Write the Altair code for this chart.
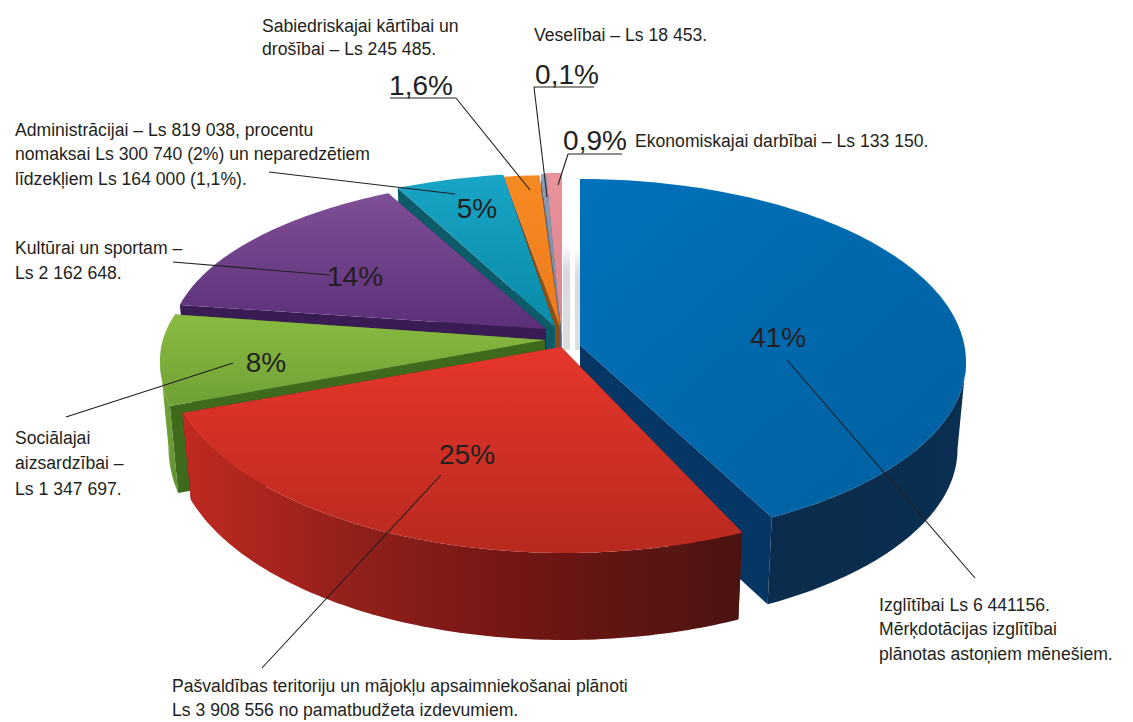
import math
import altair as alt

# ---- chart values ----
slice_names = ["Izglitiba", "Pasvaldiba", "Sociala", "Kultura", "Administracija", "Kartiba", "Veseliba", "Ekonomika"]
percent_labels = ["41%", "25%", "8%", "14%", "5%", "1,6%", "0,1%", "0,9%"]
start_deg = [0, 153.7, 257, 283, 335.4, 351.6, 357, 357.4]
end_deg = [150.2, 253, 286, 334.3, 351.8, 356.9, 357.8, 360]

# ---- drawing layout (image pixels) ----
apex_xy = [(580, 345), (561, 347), (545, 340), (546, 329), (555, 327), (560, 327), (561, 330), (562, 335)]
rim_centre = [(580, 362), (565, 355), (545, 360), (555, 342), (558, 338), (560, 340), (561, 339), (562, 338)]
radius_x = [386, 400, 385, 385, 385, 385, 385, 385]
radius_back = [183, 165, 165, 165, 165, 165, 165, 165]
radius_front = [179, 198, 205, 198, 198, 198, 198, 198]
DEPTH = 87
SHRINK = 0.978
WALL_FROM, WALL_TO = 90, 270
draw_order = [7, 6, 5, 4, 3, 2, 0, 1]


def grad(stops, x1=0, y1=0, x2=0, y2=1):
    return alt.LinearGradient(
        gradient="linear", x1=x1, y1=y1, x2=x2, y2=y2,
        stops=[alt.GradientStop(offset=o, color=c) for o, c in stops],
    )


top_fill = [
    grad([(0, "#0072bb"), (1, "#005f9f")], 0, 0, 1, 1),
    grad([(0, "#e6362c"), (1, "#b8291f")]),
    grad([(0, "#8abb41"), (1, "#6fa036")]),
    grad([(0, "#7f4f97"), (1, "#5b3079")]),
    grad([(0, "#18a5c6"), (1, "#0a8aa8")]),
    grad([(0, "#f68a22"), (1, "#ee7a1c")]),
    grad([(0, "#8f9ab4"), (1, "#7b86a0")]),
    grad([(0, "#ea929c"), (1, "#d8848e")]),
]
wall_fill = [
    grad([(0, "#0b2c4c"), (1, "#0a2f52")], 0, 0, 1, 0),
    grad([(0, "#c02a22"), (0.3, "#92201a"), (0.62, "#701614"), (1, "#4a1412")], 0, 0, 1, 0),
    grad([(0, "#79aa3a"), (1, "#5f9030")], 0, 0, 1, 0),
    grad([(0, "#4a2468"), (1, "#3a1c55")], 0, 0, 1, 0),
    grad([(0, "#0d5a68"), (1, "#0d5a68")], 0, 0, 1, 0),
    grad([(0, "#8a4a10"), (1, "#8a4a10")], 0, 0, 1, 0),
    grad([(0, "#606a80"), (1, "#606a80")], 0, 0, 1, 0),
    grad([(0, "#a86a72"), (1, "#a86a72")], 0, 0, 1, 0),
]
face_fill = ["#053664", "#5a1814", "#3f6a1e", "#3a1c55", "#0d5a68", "#8a4f18", "#5a6478", "#a86a72"]
shadow_fill = grad([(0, "#ffffff"), (0.25, "#d8dadd"), (1, "#dcdee0")])
shadow_strips = [[(563, 243), (570, 243), (570, 350), (563, 350)], [(575, 250), (580, 250), (580, 350), (575, 350)]]

# text: (x, baseline y, string)
note_lines = [
    (262, 32, "Sabiedriskajai kārtībai un"),
    (262, 55, "drošībai – Ls 245 485."),
    (534, 41, "Veselībai – Ls 18 453."),
    (635, 147, "Ekonomiskajai darbībai – Ls 133 150."),
    (15, 136, "Administrācijai – Ls 819 038, procentu"),
    (15, 160, "nomaksai Ls 300 740 (2%) un neparedzētiem"),
    (15, 185, "līdzekļiem Ls 164 000 (1,1%)."),
    (15, 254, "Kultūrai un sportam –"),
    (15, 279, "Ls 2 162 648."),
    (15, 444, "Sociālajai"),
    (15, 469, "aizsardzībai –"),
    (15, 495, "Ls 1 347 697."),
    (879, 611, "Izglītībai Ls 6 441156."),
    (879, 635, "Mērķdotācijas izglītībai"),
    (879, 660, "plānotas astoņiem mēnešiem."),
    (172, 692, "Pašvaldības teritoriju un mājokļu apsaimniekošanai plānoti"),
    (172, 716, "Ls 3 908 556 no pamatbudžeta izdevumiem."),
]
percent_pos = [(778, 347), (467, 464), (266, 372), (355, 286), (477, 218), (421, 95), (567, 84), (595, 150)]
leaders = [
    (787, 360, 975, 578), (441, 475, 262, 668), (233, 363, 66, 417), (173, 262, 330, 275),
    (269, 172, 455, 194), (390, 98, 456, 98), (456, 98, 530, 190), (534, 87, 594, 87),
    (534, 87, 547, 197), (568, 154, 622, 154), (568, 154, 558, 185),
]


def rim(i, deg):
    t = math.radians(deg)
    c = math.cos(t)
    ex, ey = rim_centre[i]
    ry = radius_back[i] if c > 0 else radius_front[i]
    return (ex + radius_x[i] * math.sin(t), ey - ry * c)


def lower(i, p):
    ex = rim_centre[i][0]
    return (ex + (p[0] - ex) * SHRINK, p[1] + DEPTH)


def arc_pts(i, a, b):
    n = max(2, int(abs(b - a)) + 2)
    return [rim(i, a + (b - a) * k / (n - 1)) for k in range(n)]


def shape(points, fill):
    ring = [list(p) for p in points] + [list(points[0])]
    feature = {"type": "Feature", "properties": {}, "geometry": {"type": "Polygon", "coordinates": [ring]}}
    return (
        alt.Chart(alt.Data(values=[feature]))
        .mark_geoshape(fill=fill, strokeWidth=0)
        .project(type="identity", scale=1, translate=[-8, -8])
    )


layers = [shape(s, shadow_fill) for s in shadow_strips]
for i in draw_order:
    a, b = start_deg[i], end_deg[i]
    apex = apex_xy[i]
    apex_low = lower(i, apex)
    pts = arc_pts(i, a, b)
    for d in (a, b):
        r = rim(i, d)
        layers.append(shape([apex, r, lower(i, r), apex_low], face_fill[i]))
    wa, wb = max(a, WALL_FROM), min(b, WALL_TO)
    if wb > wa:
        wall = arc_pts(i, wa, wb)
        layers.append(shape(wall + [lower(i, p) for p in wall][::-1], wall_fill[i]))
    layers.append(shape([apex] + pts, top_fill[i]))

X = alt.Scale(domain=[8, 1125], range=[0, 1117])
Y = alt.Scale(domain=[8, 722], range=[0, 714])

rule_rows = [{"x": a, "y": b, "x2": c, "y2": d} for a, b, c, d in leaders]
rules = alt.Chart(alt.Data(values=rule_rows)).mark_rule(color="#231f20", strokeWidth=1.1).encode(
    x=alt.X("x:Q", scale=X, axis=None),
    y=alt.Y("y:Q", scale=Y, axis=None),
    x2="x2:Q",
    y2="y2:Q",
)

note_rows = [{"x": a, "y": b, "t": t} for a, b, t in note_lines]
notes = alt.Chart(alt.Data(values=note_rows)).mark_text(
    align="left", baseline="alphabetic", font="Liberation Sans", fontSize=17.6, color="#231f20"
).encode(
    x=alt.X("x:Q", scale=X, axis=None),
    y=alt.Y("y:Q", scale=Y, axis=None),
    text="t:N",
)

pct_rows = [{"x": p[0], "y": p[1], "t": t} for p, t in zip(percent_pos, percent_labels)]
pcts = alt.Chart(alt.Data(values=pct_rows)).mark_text(
    align="center", baseline="alphabetic", font="Liberation Sans", fontSize=28, color="#231f20"
).encode(
    x=alt.X("x:Q", scale=X, axis=None),
    y=alt.Y("y:Q", scale=Y, axis=None),
    text="t:N",
)

chart = (
    alt.layer(*layers, rules, notes, pcts)
    .properties(width=1117, height=714, padding=0, autosize=alt.AutoSizeParams(type="none"), background="white")
    .configure_view(stroke=None)
)
chart.save("out.html", embed_options={"renderer": "svg", "actions": False})
